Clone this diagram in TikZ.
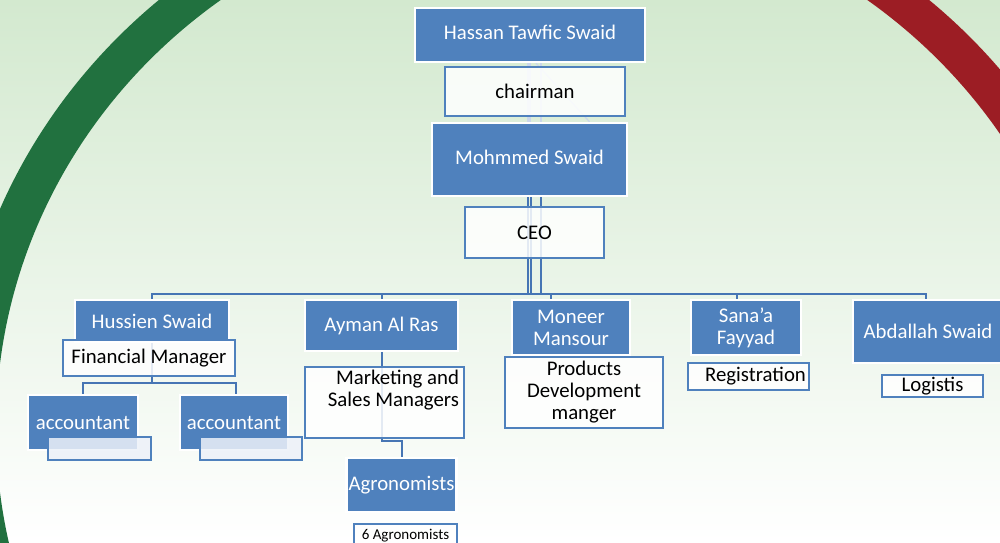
\documentclass[tikz,border=0pt]{standalone}
\usepackage{fontspec}
\setmainfont{Carlito}
\definecolor{boxblue}{HTML}{4F81BD}
\definecolor{lineblue}{HTML}{4675B4}
\definecolor{fadeblue}{HTML}{CBD7EA}
\definecolor{bggreen}{HTML}{D3E9CF}
\definecolor{arcgreen}{HTML}{21713F}
\definecolor{arcred}{HTML}{9C1D24}
\definecolor{notefill}{HTML}{EDF1F9}
\pgfdeclarelayer{back}
\pgfdeclarelayer{lines}
\pgfsetlayers{back,lines,main}
\tikzset{
  sz/.style 2 args={minimum width=#1*0.5pt, minimum height=#2*0.5pt},
  bluebox/.style={fill=boxblue, draw=white, line width=1.2pt, text=white, inner sep=1pt, align=center},
  whitebox/.style={fill=white, fill opacity=0.85, text opacity=1, draw=boxblue, line width=1.2pt, inner sep=1pt, align=center},
  notebox/.style={whitebox, fill=notefill},
  conn/.style={draw=lineblue, line width=1pt},
  faded/.style={draw=fadeblue, line width=1pt}
}
\begin{document}
\begin{tikzpicture}[x=0.5pt, y=-0.5pt, font=\fontsize{10.4}{11}\selectfont]
\useasboundingbox (0,0) rectangle (1000,542);
\begin{pgfonlayer}{back}
\begin{scope}
\clip (0,0) rectangle (1000,542);
\shade[top color=bggreen, middle color=bggreen!45, bottom color=white] (0,0) rectangle (1000,542);
\begin{scope}
\clip (0,0) rectangle (544,542);
\fill[arcgreen, even odd rule] (544,428) ellipse [x radius=295pt, y radius=282.5pt]
  (544,428) ellipse [x radius=274pt, y radius=265pt];
\end{scope}
\begin{scope}
\clip (544,0) rectangle (1000,542);
\fill[arcred, even odd rule] (544,428) ellipse [x radius=295pt, y radius=282.5pt]
  (544,428) ellipse [x radius=274pt, y radius=265pt];
\end{scope}
\end{scope}
\end{pgfonlayer}

\node[bluebox, sz={230}{54}, text depth=3pt] (hassan) at (530,35) {Hassan Tawfic Swaid};
\node[whitebox, sz={180}{49}] (chairman) at (535,91.5) {chairman};
\node[bluebox, sz={195}{73}, text depth=2pt] (mohmmed) at (529.5,159.5) {Mohmmed Swaid};
\node[whitebox, sz={139}{51}] (ceo) at (534.5,232.5) {CEO};

\node[bluebox, sz={154}{42}] (hussien) at (152,321) {Hussien Swaid};
\node[whitebox, sz={172}{36}] (finman) at (149,358) {Financial Manager};
\node[bluebox, sz={110}{55}] (acc1) at (83,422.5) {accountant};
\node[notebox, sz={103}{23}] (acc1note) at (99.5,448.5) {};
\node[bluebox, sz={108}{55}] (acc2) at (234,422.5) {accountant};
\node[notebox, sz={102}{23}] (acc2note) at (251,448.5) {};

\node[bluebox, sz={153}{51}] (ayman) at (381.5,325.5) {Ayman Al Ras};
\node[whitebox, sz={159}{71}, align=flush right, text width=74.5pt] (marketing) at (384.5,402.5) {Marketing and\\Sales Managers\\\strut};
\node[bluebox, sz={109}{54}] (agro) at (401.5,485) {Agronomists};
\node[whitebox, sz={103}{24}, font=\fontsize{7.5}{9}\selectfont] (agronote) at (405.5,536) {6 Agronomists};

\node[bluebox, sz={118}{55}] (moneer) at (571,327.5) {Moneer\\Mansour};
\node[whitebox, sz={158}{71}] (products) at (584,392.5) {Products\\Development\\manger};

\node[bluebox, sz={110}{55}] (sanaa) at (746,327.5) {Sana’a\\Fayyad};
\node[whitebox, sz={121}{27}] (registration) at (748.5,376.5) {\hspace{7pt}Registration};

\node[bluebox, sz={150}{63}] (abdallah) at (928,331.5) {Abdallah Swaid};
\node[whitebox, sz={101}{20}] (logistis) at (932.5,386) {Logistis};

\coordinate (bus) at (530,294);
\coordinate (accbus) at (153,383);
\coordinate (agrobus) at (382,441);

\begin{pgfonlayer}{lines}
\draw[faded, line width=2pt] ([xshift=-0.5pt]hassan.south) -- ([xshift=-0.25pt]mohmmed.north);
\draw[faded, line width=0.6pt] ([xshift=5.5pt]hassan.south) -- ([xshift=5.75pt]mohmmed.north);
\draw[faded, line width=0.6pt] ([xshift=3pt]hassan.south) -- ([xshift=30pt]mohmmed.north);
\draw[conn] ([xshift=-0.75pt]mohmmed.south) -- ([xshift=-0.75pt]mohmmed.south |- bus);
\draw[conn] ([xshift=0.75pt]mohmmed.south) -- ([xshift=0.75pt]mohmmed.south |- bus);
\draw[conn] ([xshift=5.75pt]mohmmed.south) -- ([xshift=5.75pt]mohmmed.south |- bus);
\draw[conn] (hussien.north) -- (hussien.north |- bus) -- ([xshift=-1pt]abdallah.north |- bus) -- ([xshift=-1pt]abdallah.north);
\draw[conn] (ayman.north) -- (ayman.north |- bus);
\draw[conn] ([xshift=-10pt]moneer.north) -- ([xshift=-10pt]moneer.north |- bus);
\draw[conn] ([xshift=-4.5pt]sanaa.north) -- ([xshift=-4.5pt]sanaa.north |- bus);
\draw[conn] (hussien.south) -- (hussien.south |- accbus);
\draw[conn] (acc1.north) -- (acc1.north |- accbus) -- ([xshift=1pt]acc2.north |- accbus) -- ([xshift=1pt]acc2.north);
\draw[conn] (ayman.south) -- (ayman.south |- agrobus) -| (agro.north);
\end{pgfonlayer}
\end{tikzpicture}
\end{document}
